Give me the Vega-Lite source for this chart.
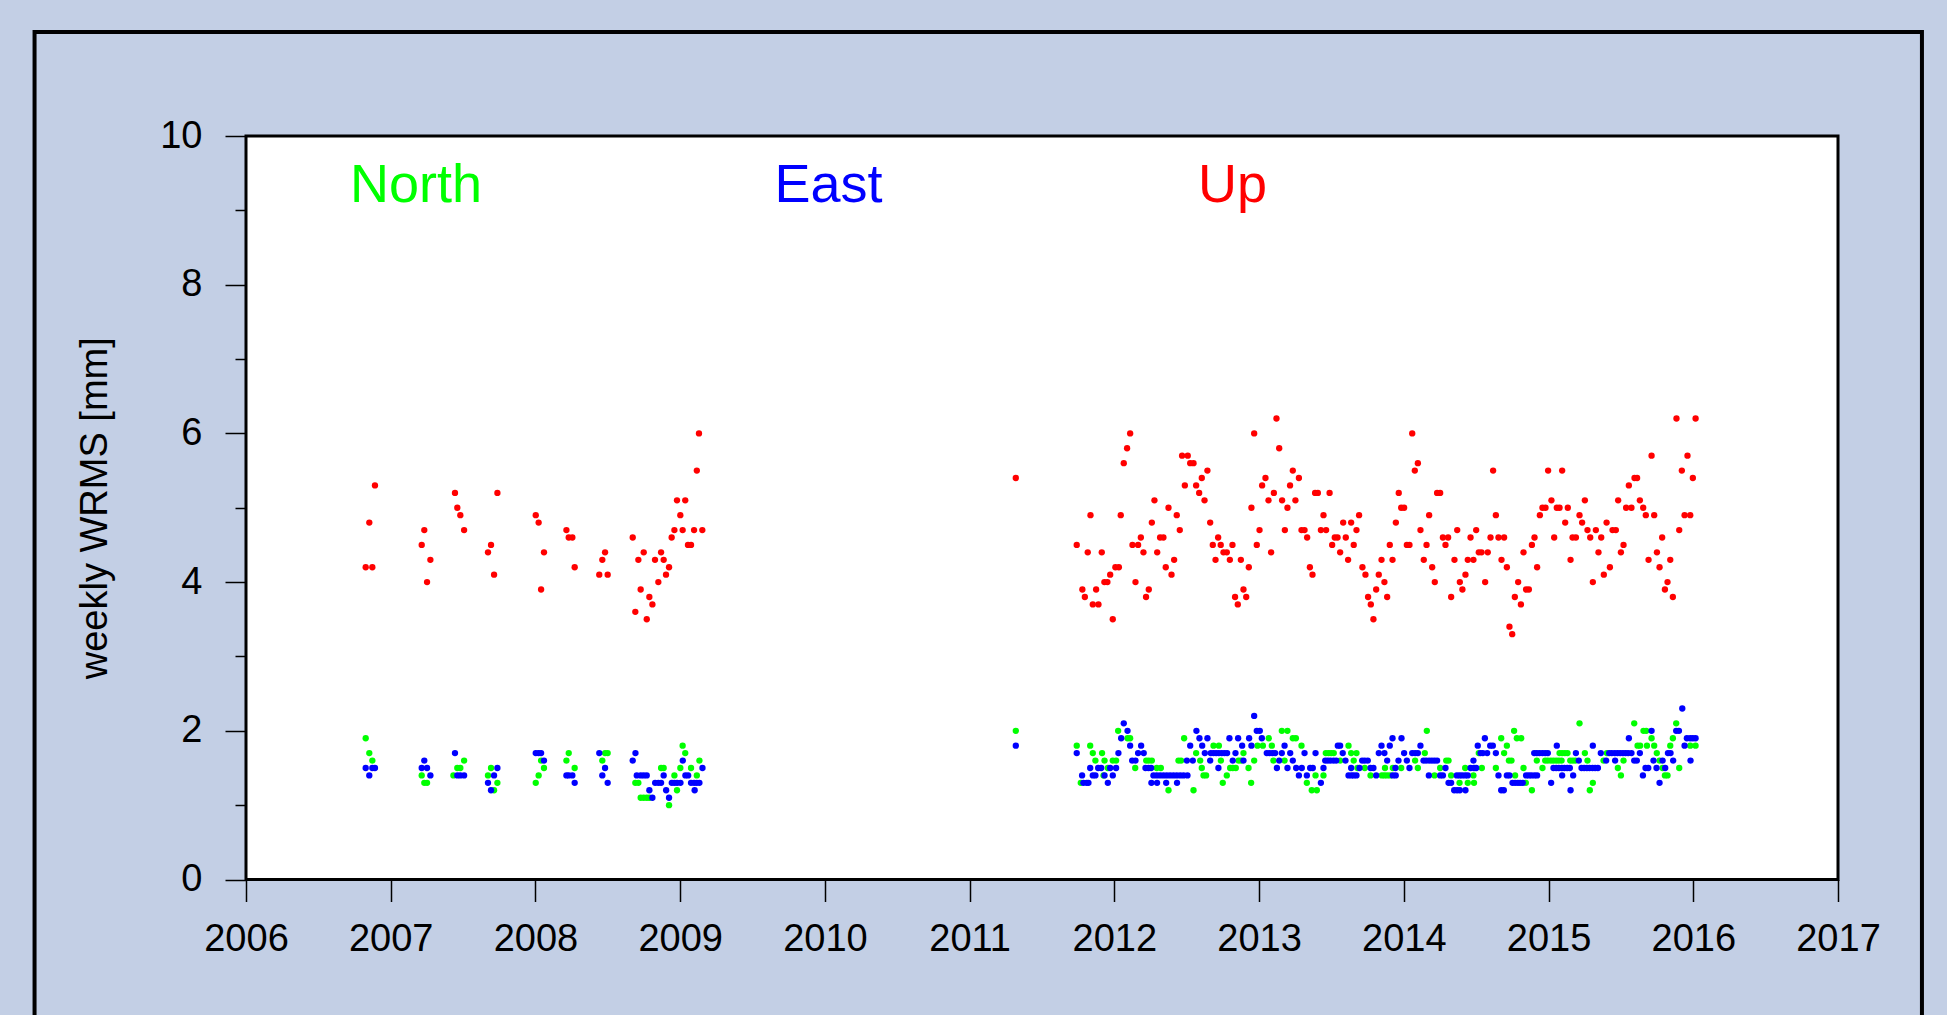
{
"$schema":"https://vega.github.io/schema/vega-lite/v6.json",
"width":1592,"height":743.5,
"autosize":{"type":"none"},
"padding":{"left":246,"top":136,"right":109,"bottom":135.5},
"background":"#c3cfe5",
"config":{"view":{"fill":"#ffffff","stroke":"#000000","strokeWidth":3},
"axis":{"labelFont":"Liberation Sans","titleFont":"Liberation Sans","labelFontSize":38,"titleFontSize":38,"titleFontWeight":"normal","labelColor":"#000000","titleColor":"#000000","tickColor":"#000000","tickWidth":1.5,"domain":false,"grid":false}},
"resolve":{"axis":{"x":"independent","y":"independent"}},
"datasets":{
"north":[
{"year":2006.827,"mm":1.9},{"year":2006.852,"mm":1.7},{"year":2006.873,"mm":1.6},{"year":2007.214,"mm":1.4},{"year":2007.232,"mm":1.3},{"year":2007.251,"mm":1.3},{"year":2007.433,"mm":1.4},{"year":2007.46,"mm":1.5},{"year":2007.481,"mm":1.5},{"year":2007.507,"mm":1.6},{"year":2007.672,"mm":1.4},{"year":2007.693,"mm":1.5},{"year":2007.714,"mm":1.2},{"year":2007.737,"mm":1.3},{"year":2008.002,"mm":1.3},{"year":2008.022,"mm":1.4},{"year":2008.039,"mm":1.6},{"year":2008.059,"mm":1.5},{"year":2008.214,"mm":1.6},{"year":2008.23,"mm":1.7},{"year":2008.271,"mm":1.5},{"year":2008.462,"mm":1.6},{"year":2008.481,"mm":1.7},{"year":2008.499,"mm":1.7},{"year":2008.69,"mm":1.3},{"year":2008.711,"mm":1.3},{"year":2008.727,"mm":1.1},{"year":2008.748,"mm":1.1},{"year":2008.769,"mm":1.1},{"year":2008.787,"mm":1.1},{"year":2008.868,"mm":1.5},{"year":2008.886,"mm":1.5},{"year":2008.923,"mm":1.0},{"year":2008.96,"mm":1.4},{"year":2008.978,"mm":1.2},{"year":2009.001,"mm":1.5},{"year":2009.017,"mm":1.8},{"year":2009.035,"mm":1.7},{"year":2009.075,"mm":1.5},{"year":2009.115,"mm":1.4},{"year":2009.133,"mm":1.6},{"year":2011.319,"mm":2.0},
{"year":2011.74,"mm":1.8},{"year":2011.768,"mm":1.3},{"year":2011.833,"mm":1.8},{"year":2011.851,"mm":1.7},{"year":2011.869,"mm":1.6},{"year":2011.915,"mm":1.7},{"year":2011.925,"mm":1.4},{"year":2011.932,"mm":1.6},{"year":2011.955,"mm":1.5},{"year":2011.989,"mm":1.6},{"year":2012.012,"mm":1.6},{"year":2012.026,"mm":2.0},{"year":2012.091,"mm":1.9},{"year":2012.109,"mm":1.9},{"year":2012.144,"mm":1.5},{"year":2012.22,"mm":1.6},{"year":2012.238,"mm":1.6},{"year":2012.259,"mm":1.6},{"year":2012.293,"mm":1.5},{"year":2012.321,"mm":1.5},{"year":2012.374,"mm":1.2},{"year":2012.443,"mm":1.6},{"year":2012.461,"mm":1.6},{"year":2012.482,"mm":1.9},{"year":2012.547,"mm":1.2},{"year":2012.565,"mm":1.7},{"year":2012.593,"mm":1.6},{"year":2012.604,"mm":1.5},{"year":2012.616,"mm":1.4},{"year":2012.634,"mm":1.4},{"year":2012.685,"mm":1.8},{"year":2012.722,"mm":1.8},{"year":2012.736,"mm":1.6},{"year":2012.749,"mm":1.3},{"year":2012.777,"mm":1.4},{"year":2012.8,"mm":1.5},{"year":2012.818,"mm":1.5},{"year":2012.839,"mm":1.5},{"year":2012.858,"mm":1.6},{"year":2012.876,"mm":1.6},{"year":2012.892,"mm":1.7},{"year":2012.927,"mm":1.5},{"year":2012.945,"mm":1.3},{"year":2012.966,"mm":1.6},{"year":2012.989,"mm":1.8},{"year":2013.026,"mm":1.8},{"year":2013.067,"mm":1.9},{"year":2013.088,"mm":1.8},{"year":2013.099,"mm":1.6},{"year":2013.157,"mm":2.0},{"year":2013.176,"mm":1.6},{"year":2013.196,"mm":2.0},{"year":2013.233,"mm":1.9},{"year":2013.254,"mm":1.9},{"year":2013.293,"mm":1.8},{"year":2013.33,"mm":1.3},{"year":2013.364,"mm":1.2},{"year":2013.39,"mm":1.4},{"year":2013.399,"mm":1.2},{"year":2013.445,"mm":1.4},{"year":2013.461,"mm":1.7},{"year":2013.48,"mm":1.7},{"year":2013.498,"mm":1.7},{"year":2013.516,"mm":1.7},
{"year":2013.56,"mm":1.6},{"year":2013.618,"mm":1.8},{"year":2013.636,"mm":1.7},{"year":2013.654,"mm":1.6},{"year":2013.673,"mm":1.7},{"year":2013.68,"mm":1.5},{"year":2013.73,"mm":1.5},{"year":2013.77,"mm":1.4},{"year":2013.848,"mm":1.4},{"year":2013.866,"mm":1.4},{"year":2013.87,"mm":1.5},{"year":2013.885,"mm":1.4},{"year":2013.906,"mm":1.4},{"year":2013.924,"mm":1.5},{"year":2013.982,"mm":1.5},{"year":2014.078,"mm":1.6},{"year":2014.097,"mm":1.5},{"year":2014.145,"mm":1.7},{"year":2014.159,"mm":2.0},{"year":2014.212,"mm":1.4},{"year":2014.251,"mm":1.5},{"year":2014.293,"mm":1.6},{"year":2014.309,"mm":1.6},{"year":2014.327,"mm":1.4},{"year":2014.385,"mm":1.3},{"year":2014.424,"mm":1.5},{"year":2014.442,"mm":1.3},{"year":2014.481,"mm":1.4},{"year":2014.485,"mm":1.3},{"year":2014.518,"mm":1.7},{"year":2014.539,"mm":1.5},{"year":2014.636,"mm":1.5},{"year":2014.673,"mm":1.9},{"year":2014.693,"mm":1.7},{"year":2014.712,"mm":1.8},{"year":2014.726,"mm":1.6},{"year":2014.744,"mm":1.6},{"year":2014.762,"mm":2.0},{"year":2014.769,"mm":1.4},{"year":2014.781,"mm":1.9},
{"year":2014.811,"mm":1.9},{"year":2014.827,"mm":1.5},{"year":2014.843,"mm":1.3},{"year":2014.885,"mm":1.2},{"year":2014.919,"mm":1.6},{"year":2014.958,"mm":1.5},{"year":2014.977,"mm":1.6},{"year":2014.995,"mm":1.6},{"year":2015.016,"mm":1.6},{"year":2015.034,"mm":1.6},{"year":2015.053,"mm":1.6},{"year":2015.071,"mm":1.6},{"year":2015.076,"mm":1.7},{"year":2015.09,"mm":1.6},{"year":2015.094,"mm":1.7},{"year":2015.113,"mm":1.7},{"year":2015.131,"mm":1.7},{"year":2015.15,"mm":1.6},{"year":2015.168,"mm":1.6},{"year":2015.186,"mm":1.6},{"year":2015.214,"mm":2.1},{"year":2015.251,"mm":1.7},{"year":2015.269,"mm":1.6},{"year":2015.285,"mm":1.2},{"year":2015.306,"mm":1.3},{"year":2015.38,"mm":1.6},{"year":2015.403,"mm":1.7},{"year":2015.479,"mm":1.5},{"year":2015.5,"mm":1.4},{"year":2015.518,"mm":1.6},{"year":2015.592,"mm":2.1},{"year":2015.615,"mm":1.8},{"year":2015.633,"mm":1.8},{"year":2015.656,"mm":2.0},{"year":2015.675,"mm":2.0},{"year":2015.68,"mm":1.8},{"year":2015.712,"mm":1.9},{"year":2015.73,"mm":1.8},{"year":2015.748,"mm":1.7},{"year":2015.767,"mm":1.6},{"year":2015.788,"mm":1.5},{"year":2015.804,"mm":1.4},{"year":2015.822,"mm":1.4},{"year":2015.841,"mm":1.8},{"year":2015.859,"mm":1.9},{"year":2015.882,"mm":2.1},{"year":2015.903,"mm":1.5},{"year":2015.979,"mm":1.8},{"year":2016.016,"mm":1.8}
],
"east":[
{"year":2006.827,"mm":1.5},{"year":2006.852,"mm":1.4},{"year":2006.873,"mm":1.5},{"year":2006.891,"mm":1.5},{"year":2007.214,"mm":1.5},{"year":2007.232,"mm":1.6},{"year":2007.251,"mm":1.5},{"year":2007.274,"mm":1.4},{"year":2007.444,"mm":1.7},{"year":2007.46,"mm":1.4},{"year":2007.481,"mm":1.4},{"year":2007.507,"mm":1.4},{"year":2007.672,"mm":1.3},{"year":2007.693,"mm":1.2},{"year":2007.714,"mm":1.4},{"year":2007.737,"mm":1.5},{"year":2008.002,"mm":1.7},{"year":2008.022,"mm":1.7},{"year":2008.039,"mm":1.7},{"year":2008.059,"mm":1.6},{"year":2008.214,"mm":1.4},{"year":2008.23,"mm":1.4},{"year":2008.255,"mm":1.4},{"year":2008.271,"mm":1.3},{"year":2008.441,"mm":1.7},{"year":2008.462,"mm":1.4},{"year":2008.481,"mm":1.5},{"year":2008.499,"mm":1.3},{"year":2008.672,"mm":1.6},{"year":2008.691,"mm":1.7},{"year":2008.7,"mm":1.4},{"year":2008.727,"mm":1.4},{"year":2008.748,"mm":1.4},{"year":2008.769,"mm":1.4},{"year":2008.787,"mm":1.2},{"year":2008.808,"mm":1.1},{"year":2008.827,"mm":1.3},{"year":2008.849,"mm":1.3},{"year":2008.868,"mm":1.3},{"year":2008.886,"mm":1.4},{"year":2008.903,"mm":1.2},{"year":2008.923,"mm":1.1},{"year":2008.942,"mm":1.3},{"year":2008.96,"mm":1.3},{"year":2008.979,"mm":1.3},{"year":2009.002,"mm":1.3},{"year":2009.018,"mm":1.6},{"year":2009.036,"mm":1.4},{"year":2009.055,"mm":1.4},{"year":2009.075,"mm":1.3},{"year":2009.096,"mm":1.3},{"year":2009.1,"mm":1.2},{"year":2009.114,"mm":1.3},{"year":2009.133,"mm":1.3},{"year":2009.154,"mm":1.5},{"year":2011.319,"mm":1.8},
{"year":2012.966,"mm":2.2},{"year":2012.065,"mm":2.1},{"year":2012.091,"mm":2.0},{"year":2012.567,"mm":2.0},{"year":2012.984,"mm":2.0},{"year":2013.005,"mm":2.0},
{"year":2012.047,"mm":1.9},{"year":2012.588,"mm":1.9},{"year":2012.643,"mm":1.9},{"year":2012.795,"mm":1.9},{"year":2012.855,"mm":1.9},{"year":2012.931,"mm":1.9},{"year":2013.019,"mm":1.9},
{"year":2012.109,"mm":1.8},{"year":2012.185,"mm":1.8},{"year":2012.524,"mm":1.8},{"year":2012.607,"mm":1.8},{"year":2012.883,"mm":1.8},{"year":2012.947,"mm":1.8},{"year":2013.176,"mm":1.8},{"year":2013.544,"mm":1.8},
{"year":2011.74,"mm":1.7},{"year":2012.028,"mm":1.7},{"year":2012.164,"mm":1.7},{"year":2012.203,"mm":1.7},{"year":2012.625,"mm":1.7},{"year":2012.666,"mm":1.7},{"year":2012.685,"mm":1.7},{"year":2012.703,"mm":1.7},{"year":2012.722,"mm":1.7},{"year":2012.742,"mm":1.7},{"year":2012.761,"mm":1.7},{"year":2012.779,"mm":1.7},{"year":2012.837,"mm":1.7},{"year":2013.053,"mm":1.7},{"year":2013.072,"mm":1.7},{"year":2013.093,"mm":1.7},{"year":2013.111,"mm":1.7},{"year":2013.157,"mm":1.7},{"year":2013.215,"mm":1.7},{"year":2013.314,"mm":1.7},{"year":2013.39,"mm":1.7},
{"year":2012.123,"mm":1.6},{"year":2012.146,"mm":1.6},{"year":2012.501,"mm":1.6},{"year":2012.542,"mm":1.6},{"year":2012.662,"mm":1.6},{"year":2012.818,"mm":1.6},{"year":2012.892,"mm":1.6},{"year":2013.139,"mm":1.6},{"year":2013.233,"mm":1.6},{"year":2013.457,"mm":1.6},{"year":2013.475,"mm":1.6},{"year":2013.493,"mm":1.6},{"year":2013.514,"mm":1.6},{"year":2013.533,"mm":1.6},
{"year":2011.833,"mm":1.5},{"year":2011.888,"mm":1.5},{"year":2011.909,"mm":1.5},{"year":2011.971,"mm":1.5},{"year":2012.012,"mm":1.5},{"year":2012.215,"mm":1.5},{"year":2012.236,"mm":1.5},{"year":2012.254,"mm":1.5},{"year":2012.719,"mm":1.5},{"year":2013.123,"mm":1.5},{"year":2013.196,"mm":1.5},{"year":2013.256,"mm":1.5},{"year":2013.295,"mm":1.5},{"year":2013.353,"mm":1.5},{"year":2013.371,"mm":1.5},{"year":2013.445,"mm":1.5},
{"year":2011.777,"mm":1.4},{"year":2011.851,"mm":1.4},{"year":2011.869,"mm":1.4},{"year":2011.932,"mm":1.4},{"year":2011.989,"mm":1.4},{"year":2012.27,"mm":1.4},{"year":2012.293,"mm":1.4},{"year":2012.316,"mm":1.4},{"year":2012.339,"mm":1.4},{"year":2012.362,"mm":1.4},{"year":2012.385,"mm":1.4},{"year":2012.408,"mm":1.4},{"year":2012.431,"mm":1.4},{"year":2012.455,"mm":1.4},{"year":2012.478,"mm":1.4},{"year":2012.505,"mm":1.4},{"year":2013.275,"mm":1.4},{"year":2013.33,"mm":1.4},
{"year":2011.786,"mm":1.3},{"year":2011.809,"mm":1.3},{"year":2011.821,"mm":1.3},{"year":2011.955,"mm":1.3},{"year":2012.256,"mm":1.3},{"year":2012.295,"mm":1.3},{"year":2012.358,"mm":1.3},{"year":2012.433,"mm":1.3},{"year":2013.427,"mm":1.3},
{"year":2013.922,"mm":1.9},{"year":2013.984,"mm":1.9},{"year":2014.56,"mm":1.9},
{"year":2013.56,"mm":1.8},{"year":2013.846,"mm":1.8},{"year":2013.903,"mm":1.8},{"year":2014.115,"mm":1.8},{"year":2014.511,"mm":1.8},{"year":2014.597,"mm":1.8},{"year":2014.615,"mm":1.8},
{"year":2013.578,"mm":1.7},{"year":2013.827,"mm":1.7},{"year":2013.866,"mm":1.7},{"year":2014.002,"mm":1.7},{"year":2014.058,"mm":1.7},{"year":2014.078,"mm":1.7},{"year":2014.097,"mm":1.7},{"year":2014.53,"mm":1.7},{"year":2014.546,"mm":1.7},{"year":2014.576,"mm":1.7},{"year":2014.636,"mm":1.7},
{"year":2013.597,"mm":1.6},{"year":2013.712,"mm":1.6},{"year":2013.73,"mm":1.6},{"year":2013.751,"mm":1.6},{"year":2013.885,"mm":1.6},{"year":2013.963,"mm":1.6},{"year":2014.021,"mm":1.6},{"year":2014.136,"mm":1.6},{"year":2014.154,"mm":1.6},{"year":2014.175,"mm":1.6},{"year":2014.194,"mm":1.6},{"year":2014.212,"mm":1.6},{"year":2014.23,"mm":1.6},{"year":2014.481,"mm":1.6},
{"year":2013.636,"mm":1.5},{"year":2013.694,"mm":1.5},{"year":2013.77,"mm":1.5},{"year":2013.79,"mm":1.5},{"year":2013.942,"mm":1.5},{"year":2014.039,"mm":1.5},{"year":2014.288,"mm":1.5},{"year":2014.461,"mm":1.5},{"year":2014.485,"mm":1.5},{"year":2014.5,"mm":1.5},
{"year":2013.618,"mm":1.4},{"year":2013.638,"mm":1.4},{"year":2013.654,"mm":1.4},{"year":2013.673,"mm":1.4},{"year":2013.809,"mm":1.4},{"year":2013.924,"mm":1.4},{"year":2013.944,"mm":1.4},{"year":2014.173,"mm":1.4},{"year":2014.251,"mm":1.4},{"year":2014.27,"mm":1.4},{"year":2014.366,"mm":1.4},{"year":2014.385,"mm":1.4},{"year":2014.403,"mm":1.4},{"year":2014.424,"mm":1.4},{"year":2014.442,"mm":1.4},{"year":2014.654,"mm":1.4},{"year":2014.712,"mm":1.4},{"year":2014.73,"mm":1.4},
{"year":2014.309,"mm":1.3},{"year":2014.327,"mm":1.3},{"year":2014.751,"mm":1.3},{"year":2014.769,"mm":1.3},{"year":2014.788,"mm":1.3},
{"year":2014.348,"mm":1.2},{"year":2014.368,"mm":1.2},{"year":2014.387,"mm":1.2},{"year":2014.426,"mm":1.2},{"year":2014.673,"mm":1.2},{"year":2014.691,"mm":1.2},
{"year":2015.924,"mm":2.3},{"year":2015.712,"mm":2.0},{"year":2015.882,"mm":2.0},{"year":2015.901,"mm":2.0},
{"year":2015.555,"mm":1.9},{"year":2015.956,"mm":1.9},{"year":2015.979,"mm":1.9},{"year":2015.997,"mm":1.9},{"year":2016.016,"mm":1.9},
{"year":2015.057,"mm":1.8},{"year":2015.306,"mm":1.8},{"year":2015.94,"mm":1.8},
{"year":2014.901,"mm":1.7},{"year":2014.919,"mm":1.7},{"year":2014.938,"mm":1.7},{"year":2014.958,"mm":1.7},{"year":2014.977,"mm":1.7},{"year":2014.995,"mm":1.7},{"year":2015.189,"mm":1.7},{"year":2015.361,"mm":1.7},{"year":2015.419,"mm":1.7},{"year":2015.437,"mm":1.7},{"year":2015.458,"mm":1.7},{"year":2015.477,"mm":1.7},{"year":2015.495,"mm":1.7},{"year":2015.514,"mm":1.7},{"year":2015.532,"mm":1.7},{"year":2015.55,"mm":1.7},{"year":2015.573,"mm":1.7},{"year":2015.631,"mm":1.7},{"year":2015.825,"mm":1.7},{"year":2015.843,"mm":1.7},
{"year":2015.209,"mm":1.6},{"year":2015.398,"mm":1.6},{"year":2015.46,"mm":1.6},{"year":2015.592,"mm":1.6},{"year":2015.61,"mm":1.6},{"year":2015.725,"mm":1.6},{"year":2015.788,"mm":1.6},{"year":2015.861,"mm":1.6},{"year":2015.981,"mm":1.6},
{"year":2015.034,"mm":1.5},{"year":2015.053,"mm":1.5},{"year":2015.071,"mm":1.5},{"year":2015.092,"mm":1.5},{"year":2015.11,"mm":1.5},{"year":2015.129,"mm":1.5},{"year":2015.147,"mm":1.5},{"year":2015.228,"mm":1.5},{"year":2015.246,"mm":1.5},{"year":2015.265,"mm":1.5},{"year":2015.283,"mm":1.5},{"year":2015.304,"mm":1.5},{"year":2015.322,"mm":1.5},{"year":2015.341,"mm":1.5},{"year":2015.67,"mm":1.5},{"year":2015.689,"mm":1.5},{"year":2015.746,"mm":1.5},{"year":2015.806,"mm":1.5},
{"year":2014.845,"mm":1.4},{"year":2014.864,"mm":1.4},{"year":2014.882,"mm":1.4},{"year":2014.903,"mm":1.4},{"year":2014.921,"mm":1.4},{"year":2015.094,"mm":1.4},{"year":2015.17,"mm":1.4},{"year":2015.652,"mm":1.4},
{"year":2014.804,"mm":1.3},{"year":2014.822,"mm":1.3},{"year":2015.018,"mm":1.3},{"year":2015.767,"mm":1.3},
{"year":2015.152,"mm":1.2}
],
"up":[
{"year":2006.827,"mm":4.2},{"year":2006.852,"mm":4.8},{"year":2006.873,"mm":4.2},{"year":2006.891,"mm":5.3},{"year":2007.214,"mm":4.5},{"year":2007.232,"mm":4.7},{"year":2007.251,"mm":4.0},{"year":2007.274,"mm":4.3},{"year":2007.444,"mm":5.2},{"year":2007.46,"mm":5.0},{"year":2007.481,"mm":4.9},{"year":2007.507,"mm":4.7},{"year":2007.672,"mm":4.4},{"year":2007.693,"mm":4.5},{"year":2007.714,"mm":4.1},{"year":2007.737,"mm":5.2},{"year":2008.002,"mm":4.9},{"year":2008.022,"mm":4.8},{"year":2008.039,"mm":3.9},{"year":2008.059,"mm":4.4},{"year":2008.214,"mm":4.7},{"year":2008.23,"mm":4.6},{"year":2008.255,"mm":4.6},{"year":2008.271,"mm":4.2},{"year":2008.441,"mm":4.1},{"year":2008.462,"mm":4.3},{"year":2008.481,"mm":4.4},{"year":2008.499,"mm":4.1},{"year":2008.672,"mm":4.6},{"year":2008.69,"mm":3.6},{"year":2008.711,"mm":4.3},{"year":2008.727,"mm":3.9},{"year":2008.748,"mm":4.4},{"year":2008.769,"mm":3.5},{"year":2008.787,"mm":3.8},{"year":2008.808,"mm":3.7},{"year":2008.826,"mm":4.3},{"year":2008.849,"mm":4.0},{"year":2008.868,"mm":4.4},{"year":2008.886,"mm":4.3},{"year":2008.902,"mm":4.1},{"year":2008.923,"mm":4.2},{"year":2008.941,"mm":4.6},{"year":2008.96,"mm":4.7},{"year":2008.978,"mm":5.1},{"year":2009.001,"mm":4.9},{"year":2009.017,"mm":4.7},{"year":2009.035,"mm":5.1},{"year":2009.054,"mm":4.5},{"year":2009.075,"mm":4.5},{"year":2009.096,"mm":4.7},{"year":2009.115,"mm":5.5},{"year":2009.13,"mm":6.0},{"year":2009.153,"mm":4.7},{"year":2011.319,"mm":5.4},
{"year":2011.74,"mm":4.5},{"year":2011.779,"mm":3.9},{"year":2011.796,"mm":3.8},{"year":2011.816,"mm":4.4},{"year":2011.835,"mm":4.9},{"year":2011.851,"mm":3.7},{"year":2011.874,"mm":3.9},{"year":2011.89,"mm":3.7},{"year":2011.913,"mm":4.4},{"year":2011.931,"mm":4.0},{"year":2011.952,"mm":4.0},{"year":2011.971,"mm":4.1},{"year":2011.989,"mm":3.5},{"year":2012.007,"mm":4.2},{"year":2012.031,"mm":4.2},{"year":2012.044,"mm":4.9},{"year":2012.065,"mm":5.6},{"year":2012.088,"mm":5.8},{"year":2012.109,"mm":6.0},{"year":2012.125,"mm":4.5},{"year":2012.146,"mm":4.0},{"year":2012.164,"mm":4.5},{"year":2012.183,"mm":4.6},{"year":2012.201,"mm":4.4},{"year":2012.219,"mm":3.8},{"year":2012.238,"mm":3.9},{"year":2012.259,"mm":4.8},{"year":2012.277,"mm":5.1},{"year":2012.296,"mm":4.4},{"year":2012.316,"mm":4.6},{"year":2012.339,"mm":4.6},{"year":2012.355,"mm":4.2},{"year":2012.374,"mm":5.0},{"year":2012.395,"mm":4.1},{"year":2012.413,"mm":4.3},{"year":2012.431,"mm":4.9},{"year":2012.452,"mm":4.7},{"year":2012.468,"mm":5.7},{"year":2012.487,"mm":5.3},{"year":2012.507,"mm":5.7},{"year":2012.524,"mm":5.6},{"year":2012.547,"mm":5.6},{"year":2012.565,"mm":5.3},{"year":2012.586,"mm":5.2},{"year":2012.604,"mm":5.4},{"year":2012.623,"mm":5.1},{"year":2012.643,"mm":5.5},{"year":2012.662,"mm":4.8},{"year":2012.68,"mm":4.5},{"year":2012.699,"mm":4.3},{"year":2012.717,"mm":4.6},{"year":2012.735,"mm":4.5},{"year":2012.754,"mm":4.4},{"year":2012.777,"mm":4.4},{"year":2012.798,"mm":4.3},{"year":2012.816,"mm":4.5},{"year":2012.834,"mm":3.8},{"year":2012.853,"mm":3.7},{"year":2012.874,"mm":4.3},{"year":2012.892,"mm":3.9},{"year":2012.911,"mm":3.8},{"year":2012.929,"mm":4.2},{"year":2012.947,"mm":5.0},{"year":2012.966,"mm":6.0},{"year":2012.984,"mm":4.5},{"year":2013.003,"mm":4.7},{"year":2013.021,"mm":5.3},{"year":2013.044,"mm":5.4},{"year":2013.065,"mm":5.1},{"year":2013.083,"mm":4.4},{"year":2013.102,"mm":5.2},{"year":2013.12,"mm":6.2},{"year":2013.139,"mm":5.8},{"year":2013.159,"mm":5.1},{"year":2013.178,"mm":4.7},{"year":2013.196,"mm":5.0},{"year":2013.214,"mm":5.3},{"year":2013.233,"mm":5.5},{"year":2013.251,"mm":5.1},{"year":2013.275,"mm":5.4},{"year":2013.293,"mm":4.7},{"year":2013.314,"mm":4.7},{"year":2013.332,"mm":4.6},{"year":2013.351,"mm":4.2},{"year":2013.369,"mm":4.1},{"year":2013.387,"mm":5.2},{"year":2013.406,"mm":5.2},{"year":2013.427,"mm":4.7},{"year":2013.445,"mm":4.9},{"year":2013.463,"mm":4.7},{"year":2013.487,"mm":5.2},{"year":2013.505,"mm":4.5},{"year":2013.523,"mm":4.6},{"year":2013.542,"mm":4.6},{"year":2013.56,"mm":4.4},{"year":2013.581,"mm":4.8},{"year":2013.599,"mm":4.6},{"year":2013.615,"mm":4.3},
{"year":2013.636,"mm":4.8},{"year":2013.654,"mm":4.5},{"year":2013.673,"mm":4.7},{"year":2013.691,"mm":4.9},{"year":2013.714,"mm":4.2},{"year":2013.735,"mm":4.1},{"year":2013.753,"mm":3.8},{"year":2013.772,"mm":3.7},{"year":2013.79,"mm":3.5},{"year":2013.809,"mm":3.9},{"year":2013.827,"mm":4.1},{"year":2013.846,"mm":4.3},{"year":2013.866,"mm":4.0},{"year":2013.885,"mm":3.8},{"year":2013.903,"mm":4.5},{"year":2013.922,"mm":4.3},{"year":2013.945,"mm":4.8},{"year":2013.965,"mm":5.2},{"year":2013.982,"mm":5.0},{"year":2014.002,"mm":5.0},{"year":2014.021,"mm":4.5},{"year":2014.039,"mm":4.5},{"year":2014.058,"mm":6.0},{"year":2014.076,"mm":5.5},{"year":2014.097,"mm":5.6},{"year":2014.115,"mm":4.7},{"year":2014.138,"mm":4.3},{"year":2014.157,"mm":4.5},{"year":2014.175,"mm":4.9},{"year":2014.196,"mm":4.2},{"year":2014.214,"mm":4.0},{"year":2014.23,"mm":5.2},{"year":2014.251,"mm":5.2},{"year":2014.27,"mm":4.6},{"year":2014.288,"mm":4.5},{"year":2014.306,"mm":4.6},{"year":2014.327,"mm":3.8},{"year":2014.35,"mm":4.3},{"year":2014.369,"mm":4.7},{"year":2014.387,"mm":4.0},{"year":2014.405,"mm":3.9},{"year":2014.426,"mm":4.1},{"year":2014.442,"mm":4.3},{"year":2014.461,"mm":4.6},{"year":2014.481,"mm":4.3},{"year":2014.5,"mm":4.7},{"year":2014.518,"mm":4.4},{"year":2014.537,"mm":4.4},{"year":2014.562,"mm":4.0},{"year":2014.58,"mm":4.4},{"year":2014.599,"mm":4.6},{"year":2014.617,"mm":5.5},{"year":2014.636,"mm":4.9},{"year":2014.654,"mm":4.6},{"year":2014.675,"mm":4.3},{"year":2014.693,"mm":4.6},{"year":2014.712,"mm":4.2},{"year":2014.73,"mm":3.4},{"year":2014.749,"mm":3.3},{"year":2014.767,"mm":3.8},{"year":2014.79,"mm":4.0},{"year":2014.809,"mm":3.7},{"year":2014.827,"mm":4.4},{"year":2014.845,"mm":3.9},{"year":2014.864,"mm":3.9},
{"year":2014.885,"mm":4.5},{"year":2014.903,"mm":4.6},{"year":2014.921,"mm":4.2},{"year":2014.94,"mm":4.9},{"year":2014.958,"mm":5.0},{"year":2014.979,"mm":5.0},{"year":2014.997,"mm":5.5},{"year":2015.02,"mm":5.1},{"year":2015.039,"mm":4.6},{"year":2015.057,"mm":5.0},{"year":2015.076,"mm":5.0},{"year":2015.094,"mm":5.5},{"year":2015.115,"mm":4.8},{"year":2015.133,"mm":5.0},{"year":2015.152,"mm":4.3},{"year":2015.166,"mm":4.6},{"year":2015.189,"mm":4.6},{"year":2015.214,"mm":4.9},{"year":2015.232,"mm":4.8},{"year":2015.251,"mm":5.1},{"year":2015.269,"mm":4.7},{"year":2015.288,"mm":4.6},{"year":2015.306,"mm":4.0},{"year":2015.327,"mm":4.7},{"year":2015.345,"mm":4.4},{"year":2015.364,"mm":4.6},{"year":2015.382,"mm":4.1},{"year":2015.401,"mm":4.8},{"year":2015.424,"mm":4.2},{"year":2015.442,"mm":4.7},{"year":2015.465,"mm":4.7},{"year":2015.481,"mm":5.1},{"year":2015.5,"mm":4.4},{"year":2015.518,"mm":4.5},{"year":2015.536,"mm":5.0},{"year":2015.555,"mm":5.3},{"year":2015.573,"mm":5.0},{"year":2015.594,"mm":5.4},{"year":2015.612,"mm":5.4},{"year":2015.631,"mm":5.1},{"year":2015.654,"mm":5.0},{"year":2015.672,"mm":4.9},{"year":2015.691,"mm":4.3},{"year":2015.712,"mm":5.7},{"year":2015.73,"mm":4.9},{"year":2015.749,"mm":4.4},{"year":2015.767,"mm":4.2},{"year":2015.785,"mm":4.6},{"year":2015.804,"mm":3.9},{"year":2015.822,"mm":4.0},{"year":2015.841,"mm":4.3},{"year":2015.859,"mm":3.8},{"year":2015.884,"mm":6.2},{"year":2015.903,"mm":4.7},{"year":2015.921,"mm":5.5},{"year":2015.94,"mm":4.9},{"year":2015.96,"mm":5.7},{"year":2015.979,"mm":4.9},{"year":2015.997,"mm":5.4},{"year":2016.016,"mm":6.2}
],
"labels":[{"label":"North","year":2006.719,"mm":9.112},{"label":"East","year":2009.652,"mm":9.112},{"label":"Up","year":2012.578,"mm":9.112}]
},
"layer":[
{"data":{"name":"north"},"mark":{"type":"circle","size":40,"opacity":1,"color":"#00ff00"},
"encoding":{"x":{"field":"year","type":"quantitative","scale":{"domain":[2006,2017],"nice":false,"zero":false},"axis":{"orient":"bottom","title":null,"values":[2006,2007,2008,2009,2010,2011,2012,2013,2014,2015,2016,2017],"format":"d","tickSize":22,"labelPadding":19,"labelOverlap":false,"labelFlush":false}},
"y":{"field":"mm","type":"quantitative","title":"weekly WRMS [mm]","scale":{"domain":[0,10],"nice":false,"zero":false},"axis":{"orient":"left","values":[0,2,4,6,8,10],"format":"d","tickSize":21,"labelPadding":23,"titlePadding":45,"labelOverlap":false}}}},
{"data":{"name":"east"},"mark":{"type":"circle","size":40,"opacity":1,"color":"#0000ff"},
"encoding":{"x":{"field":"year","type":"quantitative","scale":{"domain":[2006,2017],"nice":false,"zero":false},"axis":null},
"y":{"field":"mm","type":"quantitative","title":null,"scale":{"domain":[0,10],"nice":false,"zero":false},"axis":{"orient":"left","values":[1,3,5,7,9],"tickSize":11,"labels":false,"title":null}}}},
{"data":{"name":"up"},"mark":{"type":"circle","size":40,"opacity":1,"color":"#ff0000"},
"encoding":{"x":{"field":"year","type":"quantitative","scale":{"domain":[2006,2017],"nice":false,"zero":false},"axis":null},
"y":{"field":"mm","type":"quantitative","scale":{"domain":[0,10],"nice":false,"zero":false},"axis":null}}},
{"data":{"name":"labels"},"mark":{"type":"text","align":"left","baseline":"alphabetic","font":"Liberation Sans","fontSize":54},
"encoding":{"x":{"field":"year","type":"quantitative","scale":{"domain":[2006,2017],"nice":false,"zero":false},"axis":null},
"y":{"field":"mm","type":"quantitative","scale":{"domain":[0,10],"nice":false,"zero":false},"axis":null},
"text":{"field":"label"},
"color":{"field":"label","type":"nominal","scale":{"domain":["North","East","Up"],"range":["#00ff00","#0000ff","#ff0000"]},"legend":null}}},
{"data":{"values":[{}]},"mark":{"type":"rect","fillOpacity":0,"stroke":"#000000","strokeWidth":4,"clip":false},
"encoding":{"x":{"datum":2004.539,"type":"quantitative","scale":{"domain":[2006,2017],"nice":false,"zero":false},"axis":null},"x2":{"datum":2017.58},
"y":{"datum":11.4,"type":"quantitative","scale":{"domain":[0,10],"nice":false,"zero":false},"axis":null},"y2":{"datum":-2.5}}}
]
}
